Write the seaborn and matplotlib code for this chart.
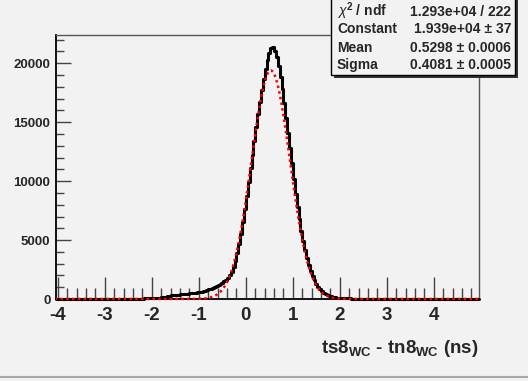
import numpy as np
import pandas as pd
import matplotlib
matplotlib.use("Agg")
import matplotlib.pyplot as plt
import seaborn as sns
from matplotlib.ticker import MultipleLocator
from matplotlib.patches import Rectangle
from matplotlib.lines import Line2D

# histogram: 225 bins of 0.04 ns starting at -4.04
x_low = -4.04
bin_width = 0.04
counts = [
    # -4.02 .. -2.54
    5, 7, 6, 8, 7, 6, 9, 8, 7, 9, 8, 10, 9, 10, 11, 9, 11, 12, 10, 12,
    13, 12, 13, 14, 14, 15, 14, 16, 15, 17, 16, 17, 17, 18, 18, 19, 19, 20,
    # -2.50 .. 2.30
    20, 22, 24, 26, 28, 30, 33, 36, 40, 44,
    48, 54, 60, 68, 78, 90, 105, 125, 150, 180,
    212, 244, 274, 300, 318, 334, 350, 366, 382, 398,
    414, 432, 450, 470, 492, 516, 542, 570, 600, 634,
    670, 712, 758, 810, 868, 932, 1004, 1084, 1172, 1270,
    1380, 1505, 1650, 1820, 2020, 2300, 2700, 3250, 3900, 4650,
    5550, 6550, 7620, 8750, 9900, 11080, 12260, 13440, 14600, 15700,
    16750, 17720, 18650, 19500, 20250, 20850, 21300, 21350, 21050, 20500,
    19750, 18850, 17800, 16650, 15400, 14100, 12800, 11500, 10200, 8950,
    7800, 6750, 5800, 4950, 4180, 3500, 2900, 2380, 1940, 1570,
    1270, 1020, 820, 660, 530, 425, 340, 275, 222, 180,
    148, 122, 102, 86, 74, 64, 56, 50, 45, 41,
    38,
    # 2.34 .. 4.94
    35, 33, 31, 30, 28, 27, 26, 25, 24, 23,
    22, 21, 20, 20, 19, 18, 18, 17, 16, 16,
    15, 15, 14, 14, 13, 13, 12, 12, 12, 11,
    11, 10, 10, 10, 9, 9, 9, 8, 8, 8,
    8, 7, 7, 7, 7, 6, 6, 6, 6, 6,
    5, 5, 5, 5, 5, 4, 4, 4, 4, 4,
    4, 3, 3, 3, 3, 3,
]

# gaussian fit, parameters as printed in the stats box
fit_constant = 1.939e4
fit_mean = 0.5298
fit_sigma = 0.4081

stats_labels = [r"$\chi^{2}$ / ndf", "Constant", "Mean", "Sigma"]
stats_values = ["1.293e+04 / 222", "1.939e+04 ± 37", "0.5298 ± 0.0006", "0.4081 ± 0.0005"]

n_bins = len(counts)
x_high = x_low + bin_width * n_bins
hist_df = pd.DataFrame({
    "center": x_low + bin_width * (np.arange(n_bins) + 0.5),
    "count": counts,
})

fit_x = np.linspace(x_low, x_high, 1200)
fit_df = pd.DataFrame({
    "x": fit_x,
    "y": fit_constant * np.exp(-0.5 * ((fit_x - fit_mean) / fit_sigma) ** 2),
})

sns.set_style("ticks")
bg = "#f2f2f2"
plt.rcParams["font.family"] = ["Liberation Sans", "DejaVu Sans"]
plt.rcParams["axes.unicode_minus"] = False
plt.rcParams["mathtext.fontset"] = "custom"
plt.rcParams["mathtext.rm"] = "Liberation Sans:bold"
plt.rcParams["mathtext.bf"] = "Liberation Sans:bold"
plt.rcParams["mathtext.it"] = "Liberation Sans:italic"

W, H = 528, 381
fig = plt.figure(figsize=(W / 100, H / 100), dpi=100, facecolor=bg)
ax = fig.add_axes([56 / W, 1 - 299 / H, (479 - 56) / W, (299 - 35) / H])
ax.set_facecolor(bg)

sns.histplot(data=hist_df, x="center", weights="count", bins=n_bins,
             binrange=(x_low, x_high), element="step", fill=False,
             color="black", linewidth=2.2, ax=ax)
sns.lineplot(data=fit_df, x="x", y="y", color="red", linestyle=(0.5, (1, 1.3)),
             linewidth=1.8, estimator=None, ax=ax, zorder=5)
for line in ax.lines:
    line.set_clip_on(False)

ax.set_xlim(x_low, x_high)
ax.set_ylim(0, 22400)
ax.xaxis.set_major_locator(MultipleLocator(1))
ax.xaxis.set_minor_locator(MultipleLocator(0.2))
ax.yaxis.set_major_locator(MultipleLocator(5000))
ax.yaxis.set_minor_locator(MultipleLocator(1000))
ax.tick_params(axis="both", which="both", direction="in", color="#444444")
ax.tick_params(axis="x", which="major", length=16, width=1, labelsize=13.5, pad=6)
ax.tick_params(axis="x", which="minor", length=8, width=1)
ax.tick_params(axis="y", which="major", length=11, width=1, labelsize=9.5, pad=4)
ax.tick_params(axis="y", which="minor", length=6, width=1)
for lab in ax.get_xticklabels() + ax.get_yticklabels():
    lab.set_fontweight("bold")

for side in ["left", "bottom"]:
    ax.spines[side].set_color("black")
    ax.spines[side].set_linewidth(1.3)
for side in ["top", "right"]:
    ax.spines[side].set_color("#555555")
    ax.spines[side].set_linewidth(1.0)

ax.set_ylabel("")
ax.set_xlabel(r"ts8$_{\mathbf{WC}}$ - tn8$_{\mathbf{WC}}$ (ns)", fontsize=13.5,
              fontweight="bold", ha="right", x=1.0, labelpad=10)

# stats box in the top right corner
box_l, box_r, box_b = 331, 515, 75
fig.patches.append(Rectangle(((box_l + 3) / W, 1 - (box_b + 3) / H),
                             (box_r - box_l) / W, (box_b + 5) / H,
                             transform=fig.transFigure, facecolor="#333333",
                             edgecolor="none", zorder=5))
fig.patches.append(Rectangle((box_l / W, 1 - box_b / H), (box_r - box_l) / W,
                             (box_b + 5) / H, transform=fig.transFigure,
                             facecolor=bg, edgecolor="black", linewidth=1, zorder=6))
row_y = [11.5, 29, 47.5, 65]
for lab, val, yy in zip(stats_labels, stats_values, row_y):
    fig.text(337 / W, 1 - yy / H, lab, fontsize=10, fontweight="bold",
             ha="left", va="center", zorder=7)
    fig.text(511 / W, 1 - yy / H, val, fontsize=10, fontweight="bold",
             ha="right", va="center", zorder=7)

# frame line at the bottom of the canvas
fig.lines.append(Line2D([0, 1], [1 - 376.5 / H, 1 - 376.5 / H], transform=fig.transFigure,
                        color="#a8a8a8", linewidth=1.5))

fig.savefig("out.png", dpi=100, facecolor=bg)
